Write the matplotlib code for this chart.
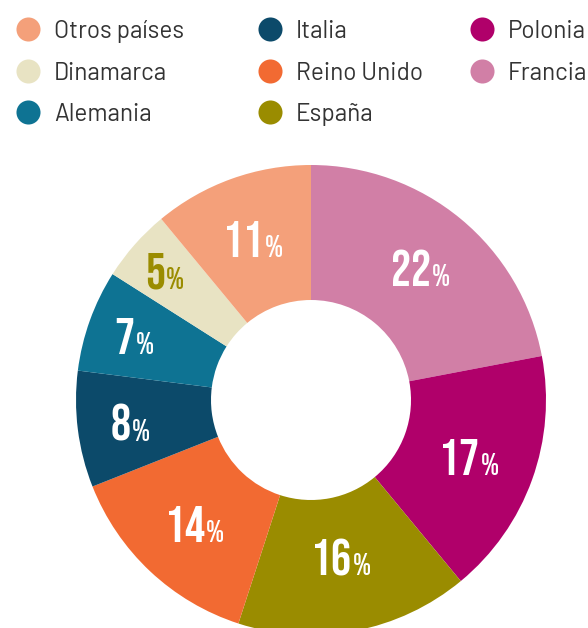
#!/usr/bin/env python3

import matplotlib
matplotlib.use('Agg')
import matplotlib.pyplot as plt
import numpy as np
from matplotlib import font_manager
from matplotlib.offsetbox import TextArea, HPacker, AnnotationBbox

################################################################################

# slices, clockwise from the top
countries = ['Francia', 'Polonia', 'España', 'Reino Unido', 'Italia',
             'Alemania', 'Dinamarca', 'Otros países']
shares = [22, 17, 16, 14, 8, 7, 5, 11]
colours = ['#d17fa6', '#b0006a', '#9a8c00', '#f26a32', '#0c4a6a',
           '#0e7393', '#e8e3c3', '#f4a07a']

# legend order, row by row in three columns
legend_order = ['Otros países', 'Italia', 'Polonia',
                'Dinamarca', 'Reino Unido', 'Francia',
                'Alemania', 'España']

################################################################################

def first_installed(names, default='DejaVu Sans'):
	installed = {f.name for f in font_manager.fontManager.ttflist}
	for n in names:
		if n in installed:
			return n
	return default

num_font = first_installed(['Bebas Neue', 'Barlow Condensed', 'Asap Condensed'])
leg_font = first_installed(['Barlow', 'Barlow Semi Condensed', 'DejaVu Sans'])

W, H = 588, 628
fig = plt.figure(figsize=(W / 100, H / 100), dpi=100)
ax = fig.add_axes([0, 0, 1, 1])
ax.set_xlim(0, W)
ax.set_ylim(0, H)
ax.set_aspect('equal')
ax.axis('off')

# donut
cx, cy = 311, H - 400
r_out, r_in = 235, 100
wedges, _ = ax.pie(shares, colors=colours, startangle=90, counterclock=False,
                   radius=r_out, center=(cx, cy),
                   wedgeprops=dict(width=r_out - r_in, linewidth=0))
ax.set_xlim(0, W)
ax.set_ylim(0, H)

# percentage labels, pushed out a bit for the thin slices
label_r = [172, 168, 160, 170, 182, 188, 195, 171]
for w, value, lr in zip(wedges, shares, label_r):
	mid = np.deg2rad((w.theta1 + w.theta2) / 2)
	x = cx + lr * np.cos(mid)
	y = cy + lr * np.sin(mid)
	col = '#9a8c00' if value == 5 else 'white'
	digits = TextArea(str(value), textprops=dict(color=col, fontsize=36, fontweight='bold',
	                                             family=num_font))
	pct = TextArea('%', textprops=dict(color=col, fontsize=22, fontweight='bold',
	                                   family=num_font))
	box = HPacker(children=[digits, pct], align='baseline', pad=0, sep=1)
	ab = AnnotationBbox(box, (x, y), frameon=False, box_alignment=(0.5, 0.5), pad=0)
	ax.add_artist(ab)

# legend, drawn by hand in three columns
col_x = [28, 270, 482]
row_y = [29, 71, 112]
for i, name in enumerate(legend_order):
	c = colours[countries.index(name)]
	mx = col_x[i % 3]
	my = H - row_y[i // 3]
	ax.scatter([mx], [my], s=300, color=c, linewidths=0, clip_on=False)
	ax.text(mx + 26, my - 9, name, fontsize=17.5, color='#333333', va='baseline', ha='left',
	        family=leg_font)

fig.savefig('out.png', dpi=100)
